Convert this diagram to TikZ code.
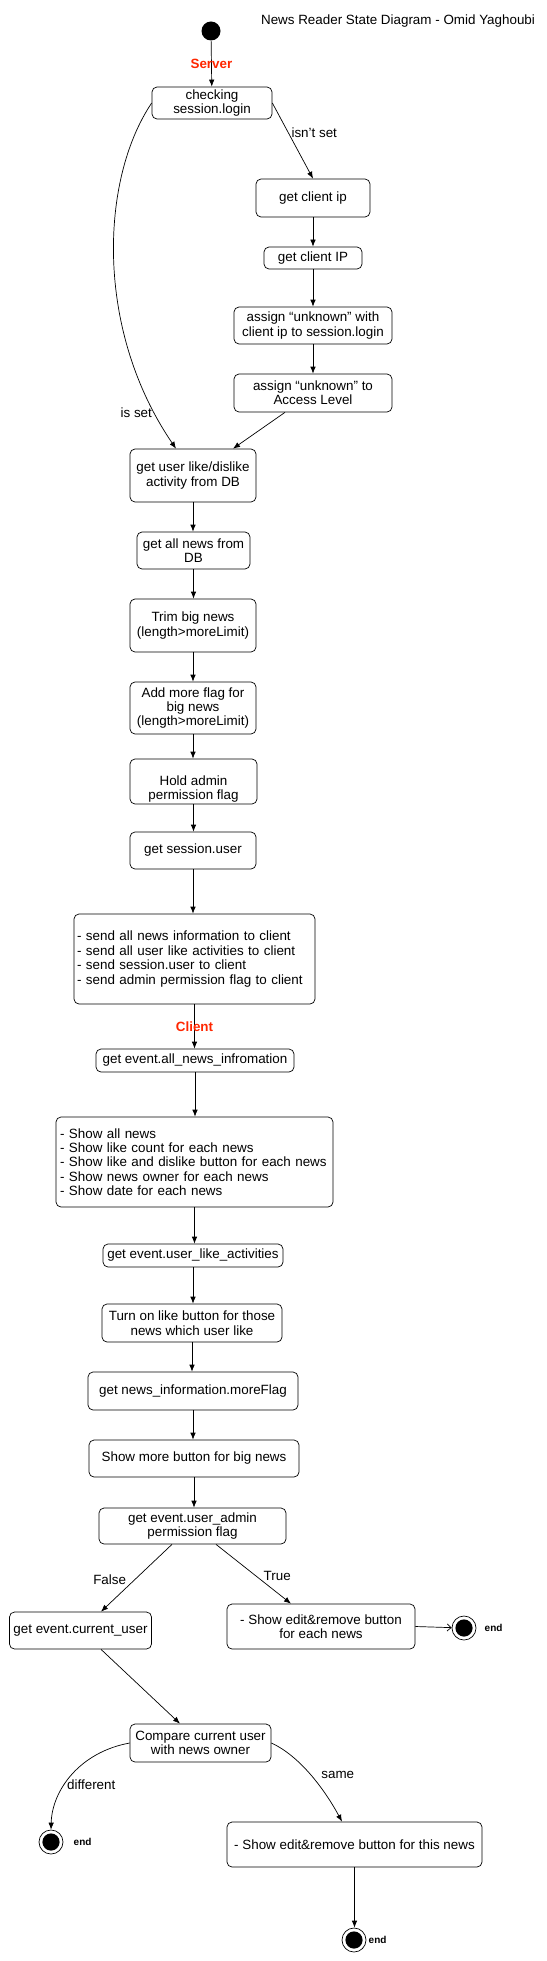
\documentclass[tikz,border=0pt]{standalone}
\usepackage{fontspec}
\setmainfont{Liberation Sans}
\usetikzlibrary{arrows.meta,positioning}
\definecolor{sidered}{RGB}{255,38,0}
\newcommand{\boxfont}{\fontsize{13.4}{14.4}\selectfont}

\begin{document}
\begin{tikzpicture}[x=1pt,y=-1pt,line width=0.7pt]
		\tikzstyle{every node}=[font=\boxfont]
		\tikzstyle{state}=[draw,rounded corners=5pt,align=center,inner sep=1pt]
		\tikzstyle{list state}=[state,align=left,inner xsep=3pt]
		\tikzstyle{init}=[circle,fill=black,minimum size=19pt,inner sep=0pt]
		\tikzstyle{final}=[circle,draw,minimum size=24pt,inner sep=0pt,path picture={\fill[black] (path picture bounding box.center) circle (8.6pt);}]
		\tikzstyle{final label}=[font=\fontsize{10}{12}\selectfont\bfseries,inner sep=1pt]
		\tikzstyle{side}=[font=\boxfont\bfseries,text=sidered,inner sep=0pt]
		\tikzstyle{trans}=[-{Latex[length=7pt,width=5.5pt]}]
		\tikzstyle{open trans}=[-{Straight Barb[length=4pt,width=7pt]}]
		\tikzstyle{guard}=[inner sep=2pt]

		\useasboundingbox (0,0) rectangle (546,1961);

			% Server side
		\node[init] (start) at (211,31) {};
		\node (title) at (398,21) {News Reader State Diagram - Omid Yaghoubi};
		\node[state,minimum width=120pt,minimum height=32pt] (check) at (212,103) {checking\\session.login};
		\node[state,minimum width=114pt,minimum height=38pt] (ip1) at (313,198) {get client ip};
		\node[state,minimum width=98pt,minimum height=22pt] (ip2) at (313,258) {get client IP};
		\node[state,minimum width=158pt,minimum height=37pt] (unk1) at (313,325.5) {assign “unknown” with\\client ip to session.login};
		\node[state,minimum width=158pt,minimum height=38pt] (unk2) at (313,393) {assign “unknown” to\\Access Level};
		\node[state,minimum width=126pt,minimum height=53pt] (likedb) at (193,475.5) {get user like/dislike\\activity from DB};
		\node[state,minimum width=113pt,minimum height=37pt] (newsdb) at (193.5,550.5) {get all news from\\DB};
		\node[state,minimum width=126pt,minimum height=53pt] (trim) at (193,625.5) {Trim big news\\(length>moreLimit)};
		\node[state,minimum width=126pt,minimum height=52pt] (more) at (193,708) {Add more flag for\\big news\\(length>moreLimit)};
		\node[state,minimum width=127pt,minimum height=45pt,inner ysep=0pt] (admin) at (193.5,781.5) {\strut\\Hold admin\\permission flag};
		\node[state,minimum width=126pt,minimum height=37pt] (suser) at (193,850.5) {get session.user};
		\node[list state,text width=235pt,minimum height=90pt] (send) at (194.5,959) {- send all news information to client\\- send all user like activities to client\\- send session.user to client\\- send admin permission flag to client};

			% Client side
		\node[state,minimum width=198pt,minimum height=23pt] (allinfo) at (195,1060.5) {get event.all\_news\_infromation};
		\node[list state,inner xsep=4pt,text width=269pt,minimum height=90pt] (shownews) at (194.5,1162) {- Show all news\\- Show like count for each news\\- Show like and dislike button for each news\\- Show news owner for each news\\- Show date for each news};
		\node[state,minimum width=180pt,minimum height=23pt] (likeact) at (193,1255.5) {get event.user\_like\_activities};
		\node[state,minimum width=180pt,minimum height=38pt] (turnon) at (192,1323) {Turn on like button for those\\news which user like};
		\node[state,minimum width=210pt,minimum height=38pt] (moreflag) at (193,1391) {get news\_information.moreFlag};
		\node[state,minimum width=210pt,minimum height=37pt] (showmore) at (194,1458.5) {Show more button for big news};
		\node[state,minimum width=187pt,minimum height=36pt] (perm) at (192.5,1526) {get event.user\_admin\\permission flag};
		\node[state,minimum width=142pt,minimum height=37pt] (cuser) at (80.5,1630.5) {get event.current\_user};
		\node[state,minimum width=188pt,minimum height=45pt] (editall) at (321,1626.5) {- Show edit\&remove button\\for each news};
		\node[final] (end1) at (464,1628) {};
		\node[final label,right=7pt of end1] (end1 text) {end};
		\node[state,minimum width=141pt,minimum height=38pt] (compare) at (200.5,1743) {Compare current user\\with news owner};
		\node[final] (end2) at (51,1842) {};
		\node[final label,right=9pt of end2] (end2 text) {end};
		\node[state,minimum width=255pt,minimum height=45pt] (editone) at (354.5,1844.5) {- Show edit\&remove button for this news};
		\node[final] (end3) at (354,1940) {};
		\node[final label,right=1pt of end3] (end3 text) {end};

			% Server transitions
		\draw[trans] (start) -- node[side]{Server} (check);
		\draw[trans] (check.east) -- node[guard,pos=0.39,anchor=west,xshift=1pt]{isn't set} (ip1.north);
		\foreach \a/\b in {ip1/ip2,ip2/unk1,unk1/unk2}
		\draw[trans] (\a.south) -- (\a.south |- \b.north);
		\draw[trans] ([xshift=-28pt]unk2.south) -- ([xshift=40pt]likedb.north);
		\draw[trans] (check.west) .. controls (100,180) and (95,330) .. node[guard,pos=0.9,left]{is set} ([xshift=-17pt]likedb.north);
		\foreach \a/\b in {likedb/newsdb,newsdb/trim,trim/more,more/admin,admin/suser,suser/send}
		\draw[trans] (\a.south) -- (\a.south |- \b.north);

			% Client transitions
		\draw[trans] (send.south) -- node[side]{Client} (send.south |- allinfo.north);
		\foreach \a/\b in {allinfo/shownews,shownews/likeact,likeact/turnon,turnon/moreflag,moreflag/showmore,showmore/perm}
		\draw[trans] (\a.south) -- (\a.south |- \b.north);
		\draw[trans] ([xshift=-20.5pt]perm.south) -- node[guard,pos=0.53,left=6pt]{False} ([xshift=20.5pt]cuser.north);
		\draw[trans] ([xshift=23.5pt]perm.south) -- node[guard,pos=0.525,right=6pt]{True} ([xshift=-30pt]editall.north);
		\draw[open trans] (editall.east) -- (end1);
		\draw[trans] ([xshift=20.5pt]cuser.south) -- ([xshift=-20.5pt]compare.north);
		\draw[trans] (compare.west) .. controls (80,1752) and (52,1790) .. node[guard,pos=0.6,anchor=west]{different} (end2.north);
		\draw[trans] (compare.east) .. controls (300,1756) and (325,1790) .. node[guard,pos=0.5,anchor=west,xshift=8pt]{same} ([xshift=-12.5pt]editone.north);
		\draw[trans] (editone.south) -- (editone.south |- end3.north);
\end{tikzpicture}
\end{document}
